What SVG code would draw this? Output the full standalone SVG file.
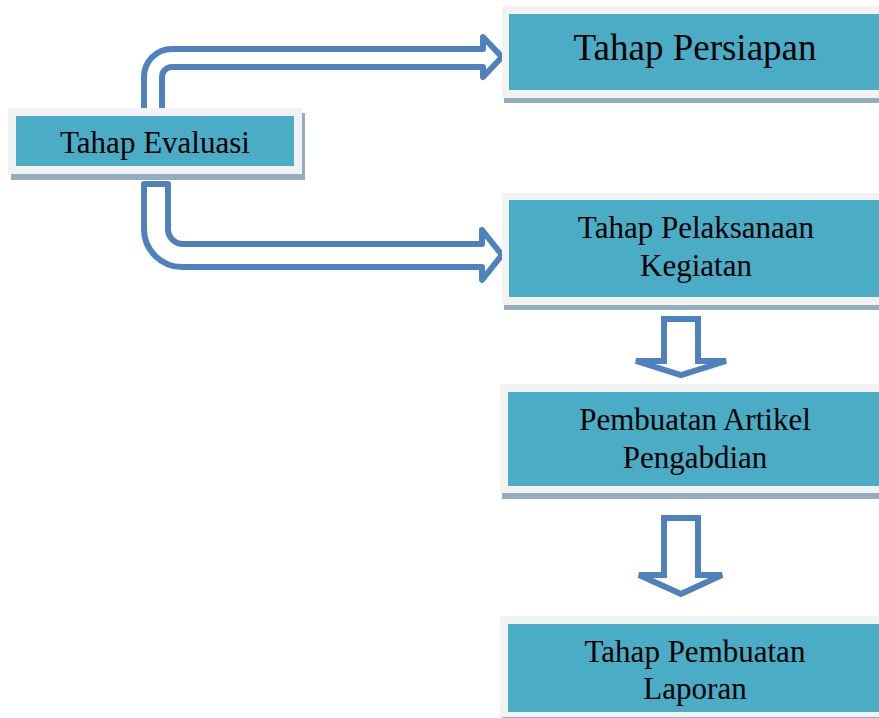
<svg xmlns="http://www.w3.org/2000/svg" width="879" height="718" viewBox="0 0 879 718">
<style>
.shadow{fill:#93AEBD}
.frame{fill:#F2F2F2}
.body{fill:#4BACC6}
.lbl{font-family:"Liberation Serif","Times New Roman",serif;fill:#000;text-anchor:middle}
.arr{fill:#FFFFFF;stroke:#4F81BD;stroke-width:6;stroke-linejoin:round;stroke-linecap:round}
</style>
<rect width="879" height="718" fill="#FFFFFF"/>
<g id="connectors">
<path class="arr" d="M144,118 V77 A28,28 0 0 1 172,49 H483 V37 L502,57 L483,77 V67 H172 A10,10 0 0 0 162,77 V118"/>
<path class="arr" d="M144,184 H168 V229 A15,15 0 0 0 183,244 H482 V230 L502,255 L482,280 V267 H182 A38,38 0 0 1 144,229 Z"/>
<path class="arr" style="stroke-linejoin:miter" d="M664,319 H698 V361 H726 L681,375 L636,361 H664 Z"/>
<path class="arr" style="stroke-linejoin:miter" d="M664,518 H698 V575 H722 L681,594 L639,575 H664 Z"/>
</g>
<g id="evaluasi">
<rect class="shadow" x="11" y="113" width="294" height="67"/>
<rect class="frame" x="8" y="108" width="294" height="66"/>
<rect class="body" x="16" y="116" width="278" height="50"/>
<text class="lbl" x="155" y="153" font-size="31">Tahap Evaluasi</text>
</g>
<g id="persiapan">
<rect class="shadow" x="504" y="11" width="380" height="92"/>
<rect class="frame" x="502" y="6" width="380" height="92"/>
<rect class="body" x="509" y="14" width="375" height="76"/>
<text class="lbl" x="695" y="60" font-size="37">Tahap Persiapan</text>
</g>
<g id="pelaksanaan">
<rect class="shadow" x="504" y="198" width="380" height="112"/>
<rect class="frame" x="502" y="193" width="380" height="112"/>
<rect class="body" x="509" y="200" width="375" height="97"/>
<text class="lbl" x="696" y="238" font-size="31">Tahap Pelaksanaan</text>
<text class="lbl" x="696" y="276" font-size="31">Kegiatan</text>
</g>
<g id="artikel">
<rect class="shadow" x="502" y="389" width="382" height="110"/>
<rect class="frame" x="500" y="384" width="382" height="109"/>
<rect class="body" x="508" y="392" width="376" height="94"/>
<text class="lbl" x="695" y="430" font-size="31">Pembuatan Artikel</text>
<text class="lbl" x="695" y="468" font-size="31">Pengabdian</text>
</g>
<g id="laporan">
<rect class="shadow" x="502" y="621" width="382" height="102"/>
<rect class="frame" x="500" y="616" width="382" height="101"/>
<rect class="body" x="508" y="624" width="376" height="88"/>
<text class="lbl" x="695" y="662" font-size="31">Tahap Pembuatan</text>
<text class="lbl" x="695" y="699" font-size="31">Laporan</text>
</g>
</svg>
